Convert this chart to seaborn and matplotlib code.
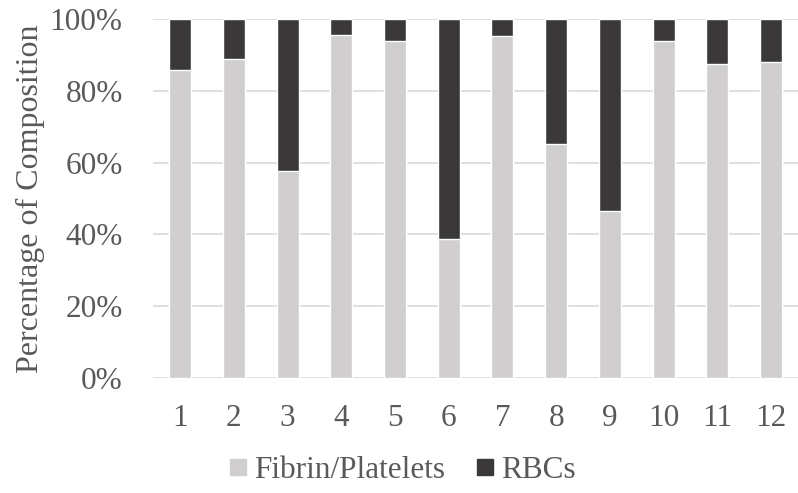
import seaborn as sns
import pandas as pd
import matplotlib.pyplot as plt
from matplotlib.lines import Line2D
from matplotlib.ticker import PercentFormatter

samples = ['1', '2', '3', '4', '5', '6', '7', '8', '9', '10', '11', '12']
fibrin = [85.9, 88.8, 57.6, 95.5, 94.0, 38.7, 95.2, 65.2, 46.6, 93.8, 87.6, 88.2]
rbcs = [14.1, 11.2, 42.4, 4.5, 6.0, 61.3, 4.8, 34.8, 53.4, 6.2, 12.4, 11.8]

light = '#D0CECE'
dark = '#3A3838'
text_col = '#595959'

df = pd.DataFrame({'sample': samples, 'fibrin': fibrin, 'rbcs': rbcs})
df['total'] = df['fibrin'] + df['rbcs']

sns.set_style('white')
plt.rcParams['font.family'] = ['Liberation Serif', 'DejaVu Serif']

fig = plt.figure(figsize=(7.98, 4.93), dpi=100)
ax = fig.add_axes([0.192, 0.234, 0.808, 0.727])

# stacked: dark total first, light fibrin on top of it
sns.barplot(data=df, x='sample', y='total', color=dark, width=0.41, ax=ax, saturation=1, zorder=2)
sns.barplot(data=df, x='sample', y='fibrin', color=light, width=0.41, ax=ax, saturation=1, zorder=3)

ax.set_ylim(0, 100)
ax.set_xlim(-0.5, 11.5)
ax.set_yticks([0, 20, 40, 60, 80, 100])
ax.yaxis.set_major_formatter(PercentFormatter(decimals=0))
ax.grid(axis='y', color='#D9D9D9', linewidth=1.2, zorder=0)
ax.set_axisbelow(True)
for s in ax.spines.values():
    s.set_visible(False)
ax.tick_params(axis='both', length=0, labelsize=22.5, colors=text_col)
ax.tick_params(axis='x', pad=19)
ax.tick_params(axis='y', pad=22)
ax.set_xlabel('')
ax.set_ylabel('Percentage of Composition', fontsize=23, color=text_col, labelpad=3)

handles = [
    Line2D([], [], marker='s', linestyle='', markersize=12, color=light, label='Fibrin/Platelets'),
    Line2D([], [], marker='s', linestyle='', markersize=12, color=dark, label='RBCs'),
]
leg = fig.legend(handles=handles, loc='center', bbox_to_anchor=(0.5, 1 - 470 / 493), ncol=2,
                 frameon=False, fontsize=22.5, handletextpad=0.0, columnspacing=0.8, handlelength=1.0)
for t in leg.get_texts():
    t.set_color(text_col)

fig.savefig('out.png', dpi=100)
